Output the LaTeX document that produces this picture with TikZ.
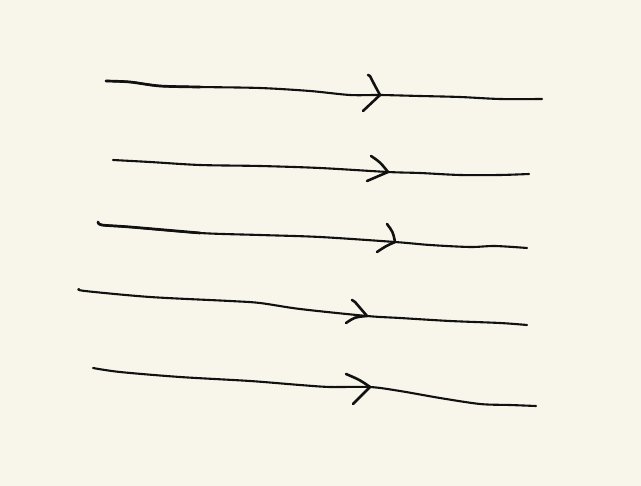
\documentclass[tikz,border=0pt]{standalone}
\definecolor{paper}{HTML}{F8F6EA}
\definecolor{ink}{HTML}{111111}
\tikzset{
  stroke/.style={draw=ink, line width=2.1pt, line cap=round, line join=round},
  thick stroke/.style={draw=ink, line width=2.7pt, line cap=round, line join=round},
  tip/.style={draw=ink, line width=2.6pt, line cap=round, line join=round}
}
\begin{document}
\begin{tikzpicture}[x=1pt,y=-1pt]
\fill[paper] (0,0) rectangle (641,486);
\useasboundingbox (0,0) rectangle (641,486);
% line 1
\draw[stroke] plot[smooth,tension=0.5] coordinates {(106,81) (130,82) (160,86) (200,87) (260,88) (310,91) (350,95) (380,95) (420,96) (460,97) (500,99) (542,99)};
\draw[thick stroke] plot[smooth,tension=0.5] coordinates {(106,81) (130,82) (160,86) (200,87)};
\draw[tip] (368,75) -- (370,76) .. controls (374,84) .. (380,95) .. controls (372,103) .. (363,111);
% line 2
\draw[stroke] plot[smooth,tension=0.5] coordinates {(113,160) (150,162) (200,165) (260,166) (320,168) (388,172) (420,173) (460,175) (500,175) (529,174)};
\draw[tip] (374,158) -- (371,156) .. controls (380,162) .. (388,172) .. controls (378,177) .. (367,181);
% line 3
\draw[stroke] plot[smooth,tension=0.5] coordinates {(98,222) (102,225) (130,227) (200,233) (260,235) (320,237) (395,242) (430,245) (470,247) (495,246) (527,248)};
\draw[thick stroke] plot[smooth,tension=0.5] coordinates {(98,222) (102,225) (130,227) (200,233)};
\draw[tip] (387,224) .. controls (393,232) .. (395,242) .. controls (386,246) .. (377,252);
% line 4
\draw[stroke] plot[smooth,tension=0.5] coordinates {(79,289) (85,291) (150,297) (230,301) (260,303) (300,309) (367,316) (400,318) (450,321) (500,323) (527,325)};
\draw[tip] (352,300) -- (355,302) .. controls (361,309) .. (367,316) .. controls (355,317) .. (346,323);
% line 5
\draw[stroke] plot[smooth,tension=0.5] coordinates {(93,368) (120,372) (180,377) (250,381) (300,385) (330,387) (370,387) (400,391) (440,398) (480,404) (510,405) (536,406)};
\draw[tip] (346,374) .. controls (360,380) .. (370,387) .. controls (361,395) .. (353,404);
\end{tikzpicture}
\end{document}
